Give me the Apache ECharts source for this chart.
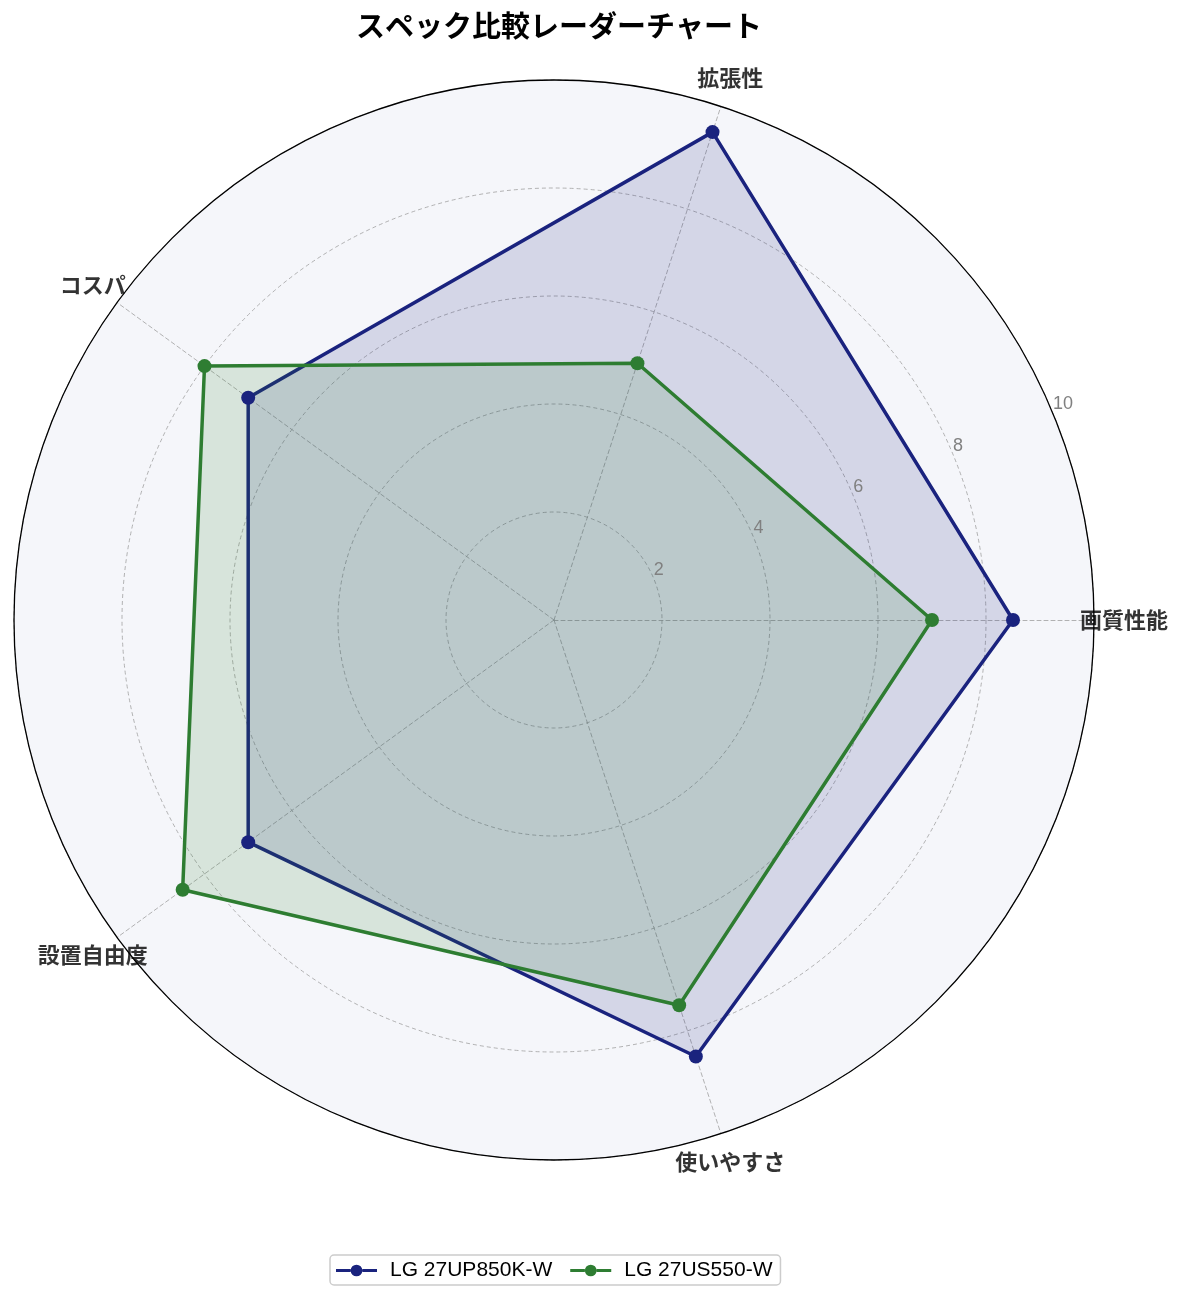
<!DOCTYPE html>
<html><head><meta charset="utf-8">
<script src="https://cdn.jsdelivr.net/npm/echarts@6/dist/echarts.min.js"></script>
<style>html,body{margin:0;padding:0;background:#fff}#c{width:1185px;height:1304px}</style>
</head><body><div id="c"></div>
<script>
const categories = ['画質性能', '拡張性', 'コスパ', '設置自由度', '使いやすさ'];
const seriesNames = ['LG 27UP850K-W', 'LG 27US550-W'];
const valuesUP850K = [8.5, 9.5, 7.0, 7.0, 8.5];
const valuesUS550 = [7.0, 5.0, 8.0, 8.5, 7.5];
const radialTicks = [2, 4, 6, 8, 10];
const maxValue = 10;
const colors = ['#1a237e', '#2e7d32'];

const FONT = '"Noto Sans CJK JP", "Noto Sans", sans-serif';
const LATIN = '"Liberation Sans", Arial, sans-serif';
const center = [554, 620];
const R = 540;

const chart = echarts.init(document.getElementById('c'), null, {renderer: 'canvas'});
const legendPath = 'path://M0,6.5L15,6.5L15,9.5L0,9.5Z M27,6.5L42,6.5L42,9.5L27,9.5Z M27,8A6,6 0 1 1 15,8A6,6 0 1 1 27,8Z';

chart.setOption({
  backgroundColor: '#ffffff',
  animation: false,
  title: {
    text: 'スペック比較レーダーチャート',
    left: 554, top: 6, textAlign: 'center',
    textStyle: {fontFamily: FONT, fontSize: 29, fontWeight: 'bold', color: '#000'}
  },
  legend: {
    data: seriesNames,
    left: 330, top: 1255,
    orient: 'horizontal',
    itemWidth: 41, itemHeight: 12, itemGap: 18,
    icon: legendPath,
    padding: [5, 8, 4, 6],
    borderColor: '#cccccc', borderWidth: 1.5, borderRadius: 4,
    textStyle: {fontFamily: LATIN, fontSize: 21, color: '#000', padding: [0, 0, 0, 8]}
  },
  radar: {
    center: center, radius: R, startAngle: 0, shape: 'circle',
    splitNumber: radialTicks.length,
    indicator: categories.map(c => ({name: c, min: 0, max: maxValue})),
    axisName: {show: false},
    axisLine: {lineStyle: {color: '#a0a0a0', type: [4, 3], width: 0.8}},
    splitLine: {lineStyle: {color: '#a0a0a0', type: [4, 3], width: 0.8}},
    splitArea: {areaStyle: {color: ['#f5f6fa']}},
    axisTick: {show: false},
    axisLabel: {show: false}
  },
  polar: [
    {center: center, radius: R},
    {center: center, radius: R + 30}
  ],
  angleAxis: [
    {polarIndex: 0, type: 'value', min: 0, max: 360, startAngle: 22.5, clockwise: false, z: 6,
     axisLine: {show: true, lineStyle: {color: '#000', width: 1.3}},
     axisTick: {show: false}, axisLabel: {show: false}, splitLine: {show: false}},
    {polarIndex: 1, type: 'value', min: 0, max: 360, startAngle: 0, clockwise: false, show: false,
     axisLine: {show: false}, axisTick: {show: false}, axisLabel: {show: false}, splitLine: {show: false}}
  ],
  radiusAxis: [
    {polarIndex: 0, type: 'value', min: 0, max: maxValue, interval: 2, z: 6,
     axisLine: {show: false}, axisTick: {show: false}, splitLine: {show: false},
     axisLabel: {show: true, margin: 0, align: 'left', verticalAlign: 'bottom',
       color: '#808080', fontSize: 18, fontFamily: LATIN,
       formatter: v => radialTicks.indexOf(v) >= 0 ? String(v) : ''}},
    {polarIndex: 1, type: 'value', min: 0, max: 1, show: false,
     axisLine: {show: false}, axisTick: {show: false}, axisLabel: {show: false}, splitLine: {show: false}}
  ],
  series: [
    {
      type: 'radar', z: 3,
      symbol: 'circle', symbolSize: 14,
      data: [
        {name: seriesNames[0], value: valuesUP850K,
         itemStyle: {color: colors[0]},
         lineStyle: {color: colors[0], width: 3.5},
         areaStyle: {color: colors[0], opacity: 0.15}},
        {name: seriesNames[1], value: valuesUS550,
         itemStyle: {color: colors[1]},
         lineStyle: {color: colors[1], width: 3.5},
         areaStyle: {color: colors[1], opacity: 0.15}}
      ]
    },
    {
      type: 'scatter', coordinateSystem: 'polar', polarIndex: 1, z: 7,
      symbolSize: 1, itemStyle: {color: 'rgba(0,0,0,0)'},
      data: categories.map((c, i) => [1, i * 360 / categories.length]),
      label: {show: true, position: 'inside', formatter: p => categories[p.dataIndex],
        fontFamily: FONT, fontSize: 22, fontWeight: 'bold', color: '#000'},
      silent: true
    }
  ]
});
</script></body></html>
